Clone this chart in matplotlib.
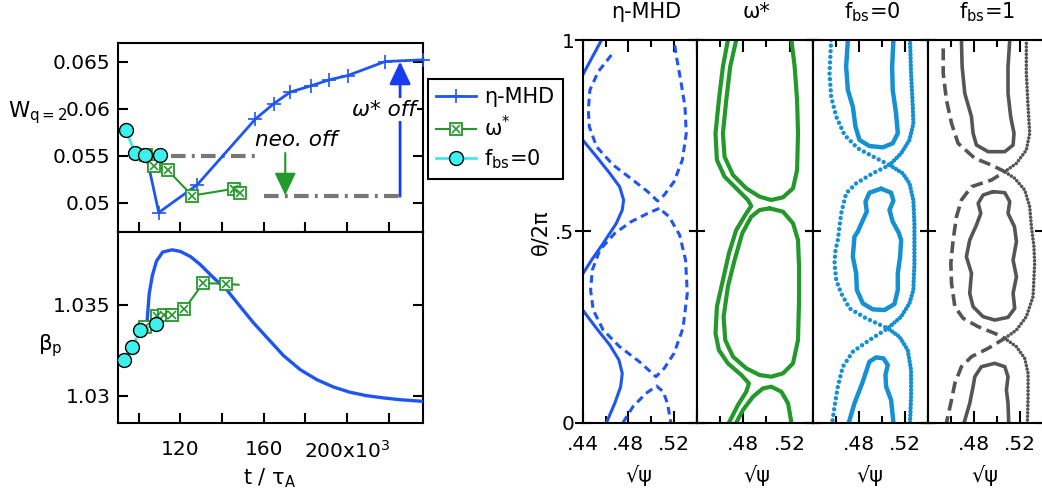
import matplotlib.pyplot as plt
import numpy as np
from matplotlib.lines import Line2D

plt.rcParams['axes.linewidth'] = 1.5
plt.rcParams['font.size'] = 14.5

BLUE = '#1f55f0'
GREEN = '#22992a'
CYAN = '#44e8e8'
SKY = '#1590d2'
GREY = '#555555'

# ---- island width and beta_p vs time (t in units of 1e3 tau_A) ----
t_w_mhd = [103.6, 109.6, 128.0, 155.9, 164.7, 172.7, 182.7, 191.5, 200.3, 218.2, 236.4]
w_mhd = [0.05508, 0.04897, 0.05191, 0.0589, 0.06053, 0.06178, 0.06245, 0.06309, 0.06354, 0.06503, 0.06521]
t_w_dia = [103.6, 107.5, 113.9, 125.6, 145.5, 148.4]
w_dia = [0.0551, 0.0539, 0.05348, 0.05077, 0.05149, 0.0511]
t_w_fbs0 = [93.7, 98.4, 103.2, 110.4]
w_fbs0 = [0.0577, 0.0553, 0.0551, 0.0551]

t_neo_on = [101.0, 155.9]
w_neo_on = [0.0550, 0.0550]
t_neo_off = [159.9, 226.2]
w_neo_off = [0.0507, 0.0507]
t_neo_arrow = 170.3
t_dia_arrow = 225.4

t_b_mhd = [104.0, 105.0, 106.5, 108.5, 111.5, 116.0, 120.0, 124.8, 129.6, 136.0, 142.4,
           148.7, 155.1, 161.5, 169.5, 177.5, 185.5, 193.4, 201.4, 209.4, 217.4, 225.4, 236.4]
b_mhd = [1.03408, 1.03560, 1.03660, 1.03740, 1.03790, 1.03802, 1.03793, 1.03765, 1.03720, 1.03647, 1.03580,
         1.03490, 1.03400, 1.03320, 1.03220, 1.03143, 1.03088, 1.03048, 1.03019, 1.03000, 1.02988, 1.02978, 1.02969]
t_b_dia = [102.8, 108.8, 112.0, 116.0, 121.9, 130.9, 142.0, 147.9]
b_dia = [1.03378, 1.03436, 1.03445, 1.03445, 1.03476, 1.03619, 1.03615, 1.03610]
t_b_fbs0 = [92.8, 96.9, 100.8, 108.5, 111.2]
b_fbs0 = [1.03198, 1.03270, 1.03359, 1.03394, 1.03408]

# ---- Poincare traces (sqrt(psi), theta/2pi) ----
mhd_outer_top = [(0.4400, 0.9085), (0.4478, 0.9521), (0.4565, 1.0)]
mhd_outer_mid = [(0.4400, 0.7387), (0.4521, 0.6951), (0.4637, 0.6516), (0.4723, 0.6167), (0.4758, 0.5819),
                 (0.4746, 0.5557), (0.4694, 0.5209), (0.4579, 0.4686), (0.4478, 0.4251), (0.4400, 0.3885)]
mhd_outer_bot = [(0.4400, 0.2944), (0.4521, 0.2465), (0.4637, 0.2030), (0.4717, 0.1638), (0.4746, 0.1289),
                 (0.4732, 0.0941), (0.4680, 0.0505), (0.4608, 0.0)]
mhd_sep_top = [(0.4651, 0.9608), (0.4536, 0.9173), (0.4463, 0.8693), (0.4449, 0.8171), (0.4458, 0.7735),
               (0.4521, 0.7213), (0.4666, 0.6734), (0.4839, 0.6341), (0.4969, 0.6037), (0.5055, 0.5793),
               (0.5113, 0.5949), (0.5199, 0.6298), (0.5272, 0.6864), (0.5306, 0.7561), (0.5295, 0.8258),
               (0.5257, 0.8955), (0.5220, 0.9564), (0.5199, 1.0)]
mhd_sep_mid = [(0.5070, 0.5601), (0.4969, 0.5470), (0.4824, 0.5253), (0.4680, 0.4948), (0.4550, 0.4512),
               (0.4484, 0.3990), (0.4469, 0.3467), (0.4492, 0.2944), (0.4579, 0.2422), (0.4723, 0.1986),
               (0.4896, 0.1594), (0.5041, 0.1202), (0.5113, 0.1420), (0.5199, 0.1812), (0.5277, 0.2465),
               (0.5315, 0.3380), (0.5300, 0.4251), (0.5248, 0.4904), (0.5156, 0.5383), (0.5070, 0.5601)]
mhd_sep_bot = [(0.4752, 0.0), (0.4839, 0.0418), (0.4954, 0.0767), (0.5046, 0.0958), (0.5104, 0.0810),
               (0.5142, 0.0505), (0.5171, 0.0)]

dia_outer = [(0.4667, 1.0), (0.4624, 0.9303), (0.4589, 0.8432), (0.4560, 0.7561), (0.4572, 0.6864),
             (0.4638, 0.6429), (0.4754, 0.6080), (0.4840, 0.5819), (0.4869, 0.5662), (0.4826, 0.5470),
             (0.4739, 0.5035), (0.4676, 0.4425), (0.4624, 0.3728), (0.4572, 0.3031), (0.4560, 0.2334),
             (0.4589, 0.1899), (0.4667, 0.1551), (0.4783, 0.1246), (0.4849, 0.1028), (0.4826, 0.0810),
             (0.4754, 0.0462), (0.4676, 0.0)]
dia_top = [(0.4739, 1.0), (0.4687, 0.9303), (0.4653, 0.8432), (0.4624, 0.7561), (0.4638, 0.6951),
           (0.4711, 0.6472), (0.4826, 0.6124), (0.4941, 0.5906), (0.5042, 0.5819), (0.5143, 0.5889),
           (0.5230, 0.6124), (0.5265, 0.6603), (0.5273, 0.7561), (0.5265, 0.8432), (0.5244, 0.9303),
           (0.5216, 1.0)]
dia_mid = [(0.5028, 0.5601), (0.4941, 0.5557), (0.4869, 0.5383), (0.4791, 0.4948), (0.4725, 0.4251),
           (0.4667, 0.3554), (0.4630, 0.2770), (0.4644, 0.2160), (0.4711, 0.1725), (0.4826, 0.1420),
           (0.4941, 0.1246), (0.5042, 0.1202), (0.5143, 0.1289), (0.5230, 0.1551), (0.5273, 0.2160),
           (0.5282, 0.3206), (0.5282, 0.4077), (0.5273, 0.4774), (0.5230, 0.5209), (0.5143, 0.5514),
           (0.5028, 0.5601)]
dia_bot = [(0.4739, 0.0), (0.4797, 0.0331), (0.4884, 0.0679), (0.4970, 0.0897), (0.5042, 0.0941),
           (0.5129, 0.0810), (0.5187, 0.0505), (0.5216, 0.0)]

fbs0_sep_left = [(0.4560, 1.0), (0.4546, 0.9129), (0.4560, 0.8519), (0.4604, 0.7997), (0.4676, 0.7517),
                 (0.4791, 0.7169), (0.4936, 0.6934), (0.5066, 0.6733), (0.4921, 0.6516), (0.4777, 0.6254),
                 (0.4690, 0.5993), (0.4647, 0.5470), (0.4618, 0.4774), (0.4598, 0.4512), (0.4589, 0.4164),
                 (0.4604, 0.3728), (0.4647, 0.3380), (0.4719, 0.2988), (0.4863, 0.2727), (0.5051, 0.2465),
                 (0.4892, 0.2160), (0.4748, 0.1855), (0.4661, 0.1463), (0.4618, 0.0941), (0.4589, 0.0418),
                 (0.4569, 0.0)]
fbs0_sep_right = [(0.5244, 1.0), (0.5253, 0.9129), (0.5268, 0.8258), (0.5273, 0.7822), (0.5239, 0.7387),
                  (0.5167, 0.7038), (0.5066, 0.6733), (0.5181, 0.6516), (0.5239, 0.6254), (0.5273, 0.5819),
                  (0.5282, 0.5209), (0.5282, 0.4774), (0.5282, 0.4164), (0.5273, 0.3467), (0.5239, 0.3118),
                  (0.5167, 0.2770), (0.5051, 0.2465), (0.5152, 0.2247), (0.5224, 0.1899), (0.5253, 0.1376),
                  (0.5253, 0.0679), (0.5244, 0.0)]
fbs0_top = [(0.4705, 1.0), (0.4690, 0.9303), (0.4705, 0.8693), (0.4748, 0.8258), (0.4771, 0.7735),
            (0.4806, 0.7387), (0.4892, 0.7230), (0.5008, 0.7195), (0.5094, 0.7300), (0.5138, 0.7561),
            (0.5123, 0.8084), (0.5094, 0.8693), (0.5089, 0.9303), (0.5100, 1.0)]
fbs0_mid = [(0.4993, 0.6115), (0.5080, 0.6010), (0.5100, 0.5801), (0.5066, 0.5557), (0.5094, 0.5253),
            (0.5146, 0.4965), (0.5167, 0.4774), (0.5158, 0.4338), (0.5138, 0.3902), (0.5138, 0.3467),
            (0.5109, 0.3101), (0.5022, 0.2944), (0.4921, 0.2962), (0.4835, 0.3118), (0.4783, 0.3467),
            (0.4777, 0.3902), (0.4748, 0.4338), (0.4762, 0.4861), (0.4791, 0.4991), (0.4829, 0.5253),
            (0.4869, 0.5514), (0.4858, 0.5775), (0.4892, 0.6010), (0.4993, 0.6115)]
fbs0_bot = [(0.4713, 0.0), (0.4762, 0.0505), (0.4829, 0.1028), (0.4863, 0.1333), (0.4892, 0.1594),
            (0.4950, 0.1707), (0.5014, 0.1681), (0.5051, 0.1507), (0.5031, 0.1246), (0.5037, 0.0941),
            (0.5080, 0.0592), (0.5100, 0.0)]

fbs1_sep_left = [(0.4532, 0.978), (0.4532, 0.9129), (0.4560, 0.8432), (0.4604, 0.7822), (0.4661, 0.7300),
                 (0.4806, 0.6908), (0.4950, 0.6733), (0.5066, 0.6559), (0.4950, 0.6341), (0.4777, 0.6167),
                 (0.4690, 0.5819), (0.4647, 0.5383), (0.4618, 0.4774), (0.4598, 0.4164), (0.4604, 0.3641),
                 (0.4633, 0.3031), (0.4705, 0.2727), (0.4835, 0.2509), (0.4979, 0.2334), (0.5066, 0.2204),
                 (0.4921, 0.1942), (0.4777, 0.1725), (0.4690, 0.1463), (0.4633, 0.1028), (0.4604, 0.0592),
                 (0.4560, 0.0)]
fbs1_sep_right = [(0.5253, 0.9913), (0.5253, 0.9129), (0.5268, 0.8258), (0.5282, 0.7561), (0.5253, 0.7125),
                  (0.5167, 0.6777), (0.5066, 0.6559), (0.5152, 0.6385), (0.5239, 0.6080), (0.5282, 0.5645),
                  (0.5297, 0.5122), (0.5319, 0.4599), (0.5325, 0.4164), (0.5311, 0.3293), (0.5253, 0.2770),
                  (0.5167, 0.2422), (0.5066, 0.2204), (0.5167, 0.1986), (0.5239, 0.1681), (0.5268, 0.1289),
                  (0.5268, 0.0679), (0.5262, 0.0)]
fbs1_top = [(0.4690, 1.0), (0.4696, 0.9303), (0.4719, 0.8606), (0.4777, 0.7997), (0.4791, 0.7561),
            (0.4820, 0.7256), (0.4921, 0.7082), (0.5066, 0.7082), (0.5138, 0.7256), (0.5146, 0.7561),
            (0.5117, 0.7997), (0.5094, 0.8606), (0.5094, 0.9303), (0.5109, 1.0)]
fbs1_mid = [(0.4965, 0.6037), (0.4878, 0.5949), (0.4835, 0.5732), (0.4858, 0.5470), (0.4820, 0.5166),
            (0.4762, 0.4774), (0.4733, 0.4338), (0.4777, 0.3902), (0.4762, 0.3380), (0.4791, 0.3031),
            (0.4878, 0.2770), (0.4979, 0.2683), (0.5094, 0.2753), (0.5152, 0.2988), (0.5138, 0.3380),
            (0.5167, 0.3815), (0.5138, 0.4251), (0.5167, 0.4730), (0.5150, 0.5122), (0.5094, 0.5470),
            (0.5109, 0.5775), (0.5066, 0.6010), (0.4965, 0.6037)]
fbs1_bot = [(0.4713, 0.0), (0.4762, 0.0505), (0.4791, 0.0941), (0.4806, 0.1202), (0.4863, 0.1463),
            (0.4979, 0.1551), (0.5066, 0.1463), (0.5094, 0.1202), (0.5080, 0.0854), (0.5094, 0.0505),
            (0.5100, 0.0)]

panel_titles = ['η-MHD', 'ω*', 'f$_\\mathrm{bs}$=0', 'f$_\\mathrm{bs}$=1']


def trace(ax, pts, **kw):
    a = np.array(pts)
    ax.plot(a[:, 0], a[:, 1], solid_joinstyle='round', solid_capstyle='round', **kw)


W, H = 1042, 497
fig = plt.figure(figsize=(W / 100, H / 100), dpi=100)


def box(l, t, r, b):
    return [l / W, (H - b) / H, (r - l) / W, (b - t) / H]


# ---- top left: island width ----
axw = fig.add_axes(box(117.5, 43, 423, 232))
axw.plot(t_neo_on, w_neo_on, color='#777777', lw=3, ls=(0, (3.5, 1.5, 0.7, 1.5)), zorder=1)
axw.plot(t_neo_off, w_neo_off, color='#777777', lw=3, ls=(0, (3.5, 1.5, 0.7, 1.5)), zorder=1)
axw.plot(t_w_mhd, w_mhd, '-', color=BLUE, lw=2, marker='+', ms=10, mew=1.2, clip_on=False, zorder=3)
axw.plot(t_w_dia, w_dia, '-', color=GREEN, lw=1.5, marker='s', ms=8, mfc='white', mec=GREEN, mew=1.3, zorder=4)
axw.plot(t_w_dia, w_dia, 'x', color=GREEN, ms=6, mew=1.2, zorder=4)
axw.plot(t_w_fbs0, w_fbs0, '-', color=CYAN, lw=2, marker='o', ms=10, mfc='#3cf0ec', mec='black', mew=1, zorder=5)

axw.annotate('', xy=(t_neo_arrow, w_neo_off[0] + 0.0001), xytext=(t_neo_arrow, 0.0553),
             arrowprops=dict(arrowstyle='-|>,head_length=0.95,head_width=0.45', color=GREEN, lw=1.5,
                             shrinkA=0, shrinkB=0))
axw.annotate('', xy=(t_dia_arrow, w_mhd[-2]), xytext=(t_dia_arrow, w_neo_off[0]),
             arrowprops=dict(arrowstyle='-|>,head_length=0.95,head_width=0.45', color='#1a3cf0', lw=2,
                             shrinkA=0, shrinkB=0))
axw.text(155.9, 0.0567, 'neo. off', style='italic', fontsize=15.5, ha='left', va='center')
axw.text(217.7, 0.0599, 'ω* off', style='italic', fontsize=15.5, ha='center', va='center',
         bbox=dict(fc='white', ec='none', pad=1), zorder=6)

axw.set_xlim(89.8, 236.4)
axw.set_ylim(0.0469, 0.0670)
axw.set_xticks(np.arange(100, 240, 20))
axw.set_xticklabels([])
axw.set_yticks([0.05, 0.055, 0.06, 0.065])
axw.set_yticklabels(['0.05', '0.055', '0.06', '0.065'])
axw.tick_params(direction='in', length=7, width=1.5, right=True, pad=5)

# ---- bottom left: beta_p ----
axb = fig.add_axes(box(117.5, 232, 423, 423))
axb.plot(t_b_mhd, b_mhd, '-', color=BLUE, lw=2.4, zorder=3)
axb.plot(t_b_dia, b_dia, '-', color=GREEN, lw=1.5, zorder=4)
axb.plot(t_b_dia[:-1], b_dia[:-1], 's', ms=8, mfc='white', mec=GREEN, mew=1.3, zorder=4)
axb.plot(t_b_dia[:-1], b_dia[:-1], 'x', color=GREEN, ms=6, mew=1.2, zorder=4)
axb.plot(t_b_fbs0, b_fbs0, '-', color=CYAN, lw=2, zorder=5)
axb.plot(t_b_fbs0[:-1], b_fbs0[:-1], 'o', ms=10, mfc='#3cf0ec', mec='black', mew=1, zorder=5)
axb.set_xlim(89.8, 236.4)
axb.set_ylim(1.0285, 1.0390)
axb.set_xticks(np.arange(100, 240, 20))
axb.set_xticklabels(['', '120', '', '160', '', '200x10$^3$', ''])
axb.set_yticks([1.03, 1.035])
axb.set_yticklabels(['1.03', '1.035'])
axb.tick_params(direction='in', length=7, width=1.5, right=True, pad=5)
axb.tick_params(axis='x', pad=12)

fig.text(8 / W, 1 - 117 / H, 'W$_\\mathrm{q{=}2}$', fontsize=15.5, ha='left', va='baseline')
fig.text(38 / W, 1 - 350 / H, 'β$_\\mathrm{p}$', fontsize=15.5, ha='left', va='baseline')
fig.text(270 / W, 1 - 484 / H, 't / τ$_\\mathrm{A}$', fontsize=15, ha='center', va='baseline')

# legend
h_mhd = Line2D([], [], color=BLUE, lw=2, marker='+', ms=10, mew=1.2)
h_dia = (Line2D([], [], color=GREEN, lw=1.5, marker='s', ms=8, mfc='white', mec=GREEN, mew=1.3),
         Line2D([], [], ls='none', color=GREEN, marker='x', ms=6, mew=1.2))
h_fbs = Line2D([], [], color=CYAN, lw=2, marker='o', ms=10, mfc='#3cf0ec', mec='black', mew=1)
leg = fig.legend([h_mhd, h_dia, h_fbs], ['η-MHD', 'ω$^{*}$', 'f$_\\mathrm{bs}$=0'],
                 loc='upper left', bbox_to_anchor=(428 / W, 1 - 79 / H), fontsize=15,
                 frameon=True, fancybox=False, edgecolor='black', framealpha=1, borderaxespad=0,
                 handlelength=1.9, handletextpad=0.4, labelspacing=0.35, borderpad=0.4, numpoints=1)
leg.get_frame().set_linewidth(1.5)

# ---- right: Poincare sections ----
edges = [582.7, 697.0, 812.7, 928.0, 1043.3]
title_x = [646, 757, 872, 987]
label_x = [639, 757, 870, 985]
axes = []
for i in range(4):
    ax = fig.add_axes(box(edges[i], 40, edges[i + 1], 422.7))
    ax.set_xlim(0.44, 0.54)
    ax.set_ylim(0, 1)
    ax.set_xticks([0.44, 0.48, 0.52])
    ax.set_xticks([0.46, 0.50, 0.54], minor=True)
    ax.set_yticks([0, 0.5, 1])
    if i == 0:
        ax.set_xticklabels(['.44', '.48', '.52'])
        ax.set_yticklabels(['0', '.5', '1'])
    else:
        ax.set_xticklabels(['', '.48', '.52'])
        ax.set_yticklabels([])
    ax.tick_params(axis='x', which='major', direction='in', length=8.5, width=1.5, top=True, pad=9)
    ax.tick_params(axis='x', which='minor', direction='in', length=5, width=1.5, top=True)
    ax.tick_params(axis='y', direction='inout', length=11, width=1.5, right=True, pad=0.5)
    fig.text(title_x[i] / W, 1 - 18 / H, panel_titles[i], fontsize=15, ha='center', va='baseline')
    fig.text(label_x[i] / W, 1 - 475 / H, '√ψ', fontsize=15, ha='center', va='center')
    axes.append(ax)

fig.text(540 / W, 1 - 232 / H, 'θ/2π', fontsize=15, rotation=90, ha='center', va='center')

ax1, ax2, ax3, ax4 = axes
for pts in (mhd_outer_top, mhd_outer_mid, mhd_outer_bot):
    trace(ax1, pts, color=BLUE, lw=2.2)
for pts in (mhd_sep_top, mhd_sep_mid, mhd_sep_bot):
    trace(ax1, pts, color=BLUE, lw=2.2, ls=(0, (2.5, 1.6)))

for pts in (dia_outer, dia_top, dia_mid, dia_bot):
    trace(ax2, pts, color=GREEN, lw=3)

trace(ax3, fbs0_sep_left, color=SKY, lw=3.2, ls=(0, (0.01, 1.25)), dash_capstyle='round')
trace(ax3, fbs0_sep_right, color=SKY, lw=3.2, ls=(0, (0.01, 0.8)), dash_capstyle='round')
for pts in (fbs0_top, fbs0_mid, fbs0_bot):
    trace(ax3, pts, color=SKY, lw=3.2)

trace(ax4, fbs1_sep_left, color=GREY, lw=2.6, ls=(0, (3.3, 1.6)))
trace(ax4, fbs1_sep_right, color=GREY, lw=2.6, ls=(0, (0.01, 1.0)), dash_capstyle='round')
for pts in (fbs1_top, fbs1_mid, fbs1_bot):
    trace(ax4, pts, color=GREY, lw=2.6)

fig.savefig('out.png', dpi=100)
